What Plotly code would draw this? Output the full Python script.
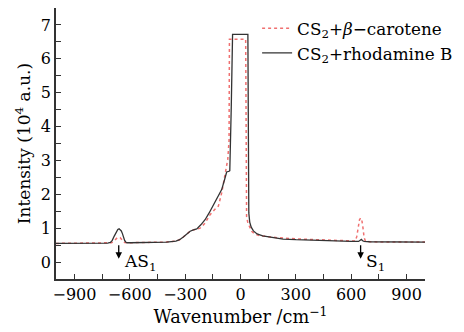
import plotly.graph_objects as go

# --- data ---
rhod_x = [-1000, -900, -800, -720, -705, -695, -685, -675, -665, -658, -652, -646, -640, -634, -628, -622, -615,
          -600, -500, -400, -350, -330, -310, -290, -273, -255, -237, -215, -192, -170, -147, -125, -102, -88, -75,
          -62, -58, -50, -43, 40, 42, 45, 50, 58, 70, 90, 120, 170, 231, 300, 430, 600, 640, 648, 655, 662, 670,
          700, 800, 900, 1000]
rhod_y = [0.55, 0.55, 0.55, 0.56, 0.58, 0.64, 0.76, 0.88, 0.96, 0.98, 0.96, 0.92, 0.84, 0.73, 0.64, 0.59, 0.57,
          0.57, 0.57, 0.59, 0.62, 0.66, 0.74, 0.83, 0.91, 0.95, 0.98, 1.1, 1.25, 1.45, 1.70, 1.92, 2.14, 2.4, 2.66,
          2.68, 2.70, 4.6, 6.72, 6.72, 3.2, 1.45, 1.18, 1.03, 0.92, 0.83, 0.77, 0.72, 0.68, 0.66, 0.63, 0.61, 0.61,
          0.63, 0.67, 0.63, 0.61, 0.60, 0.59, 0.59, 0.59]

caro_x = [-1000, -900, -800, -720, -700, -688, -678, -668, -660, -652, -644, -636, -628, -615, -600, -500, -400,
          -350, -330, -310, -290, -273, -255, -237, -219, -192, -165, -140, -120, -102, -84, -69, -62, -60, 28, 30,
          33, 40, 50, 62, 80, 105, 134, 200, 315, 495, 600, 622, 630, 638, 645, 651, 657, 664, 670, 677, 700, 800,
          900, 1000]
caro_y = [0.55, 0.55, 0.55, 0.56, 0.57, 0.60, 0.66, 0.72, 0.73, 0.72, 0.67, 0.61, 0.58, 0.57, 0.57, 0.57, 0.59,
          0.62, 0.66, 0.74, 0.83, 0.91, 0.95, 0.97, 1.0, 1.15, 1.40, 1.55, 1.65, 2.04, 2.53, 3.03, 3.6, 6.58, 6.58,
          3.0, 1.35, 1.15, 1.05, 0.90, 0.82, 0.78, 0.76, 0.72, 0.68, 0.64, 0.61, 0.62, 0.75, 1.05, 1.25, 1.30, 1.26,
          1.0, 0.72, 0.62, 0.60, 0.59, 0.59, 0.59]

x_ticks = [-900, -600, -300, 0, 300, 600, 900]
y_ticks = [0, 1, 2, 3, 4, 5, 6, 7]

FONT = "DejaVu Serif"
AX = "#333333"

fig = go.Figure()
fig.add_trace(go.Scatter(
    x=caro_x, y=caro_y, mode="lines",
    name="CS<sub>2</sub>+<i>β</i>−carotene",
    line=dict(color="#f07070", width=1.5, dash="dot"),
))
fig.add_trace(go.Scatter(
    x=rhod_x, y=rhod_y, mode="lines",
    name="CS<sub>2</sub>+rhodamine B",
    line=dict(color="#333333", width=1.3),
))

axis_common = dict(
    showline=True, linecolor=AX, linewidth=1.5, ticks="inside", ticklen=5,
    tickcolor=AX, tickwidth=1.3, showgrid=False, zeroline=False, mirror=False,
    tickfont=dict(family=FONT, size=16, color="black"),
)

fig.update_xaxes(
    range=[-1000, 1000], tickvals=x_ticks, ticktext=[("−" + str(-v)) if v < 0 else str(v) for v in x_ticks],
    minor=dict(dtick=150, tick0=0, ticks="inside", ticklen=5, tickcolor=AX, tickwidth=1.3),
    title=dict(text="Wavenumber /cm<sup>−1</sup>", font=dict(family=FONT, size=17.7, color="black"), standoff=4),
    automargin=False,
    **axis_common,
)
fig.update_yaxes(
    range=[-0.5, 7.5], tickvals=y_ticks,
    minor=dict(dtick=0.5, tick0=0, ticks="inside", ticklen=5, tickcolor=AX, tickwidth=1.3),
    title=dict(text="Intensity (10<sup>4</sup> a.u.)", font=dict(family=FONT, size=17, color="black"), standoff=6),
    automargin=False,
    **axis_common,
)

# Arrows and labels
for xv, lab in [(-660, "AS<sub>1</sub>"), (651, "S<sub>1</sub>")]:
    fig.add_annotation(x=xv, y=0.1, ax=0, ay=-15, showarrow=True, arrowhead=2, arrowsize=1,
                       arrowwidth=1.3, arrowcolor="black", text="")
    fig.add_annotation(x=xv + 18, y=-0.02, xanchor="left", yanchor="middle", showarrow=False,
                       text=lab, font=dict(family=FONT, size=17, color="black"))

fig.update_layout(
    width=464, height=332,
    margin=dict(l=56, r=39, t=8, b=53, autoexpand=False),
    paper_bgcolor="white", plot_bgcolor="white",
    showlegend=True,
    legend=dict(x=0.545, y=0.99, xanchor="left", yanchor="top", bgcolor="rgba(0,0,0,0)",
                font=dict(family=FONT, size=16.8, color="black"), tracegroupgap=0),
    font=dict(family=FONT, color="black"),
)

fig.write_html("out.html")
